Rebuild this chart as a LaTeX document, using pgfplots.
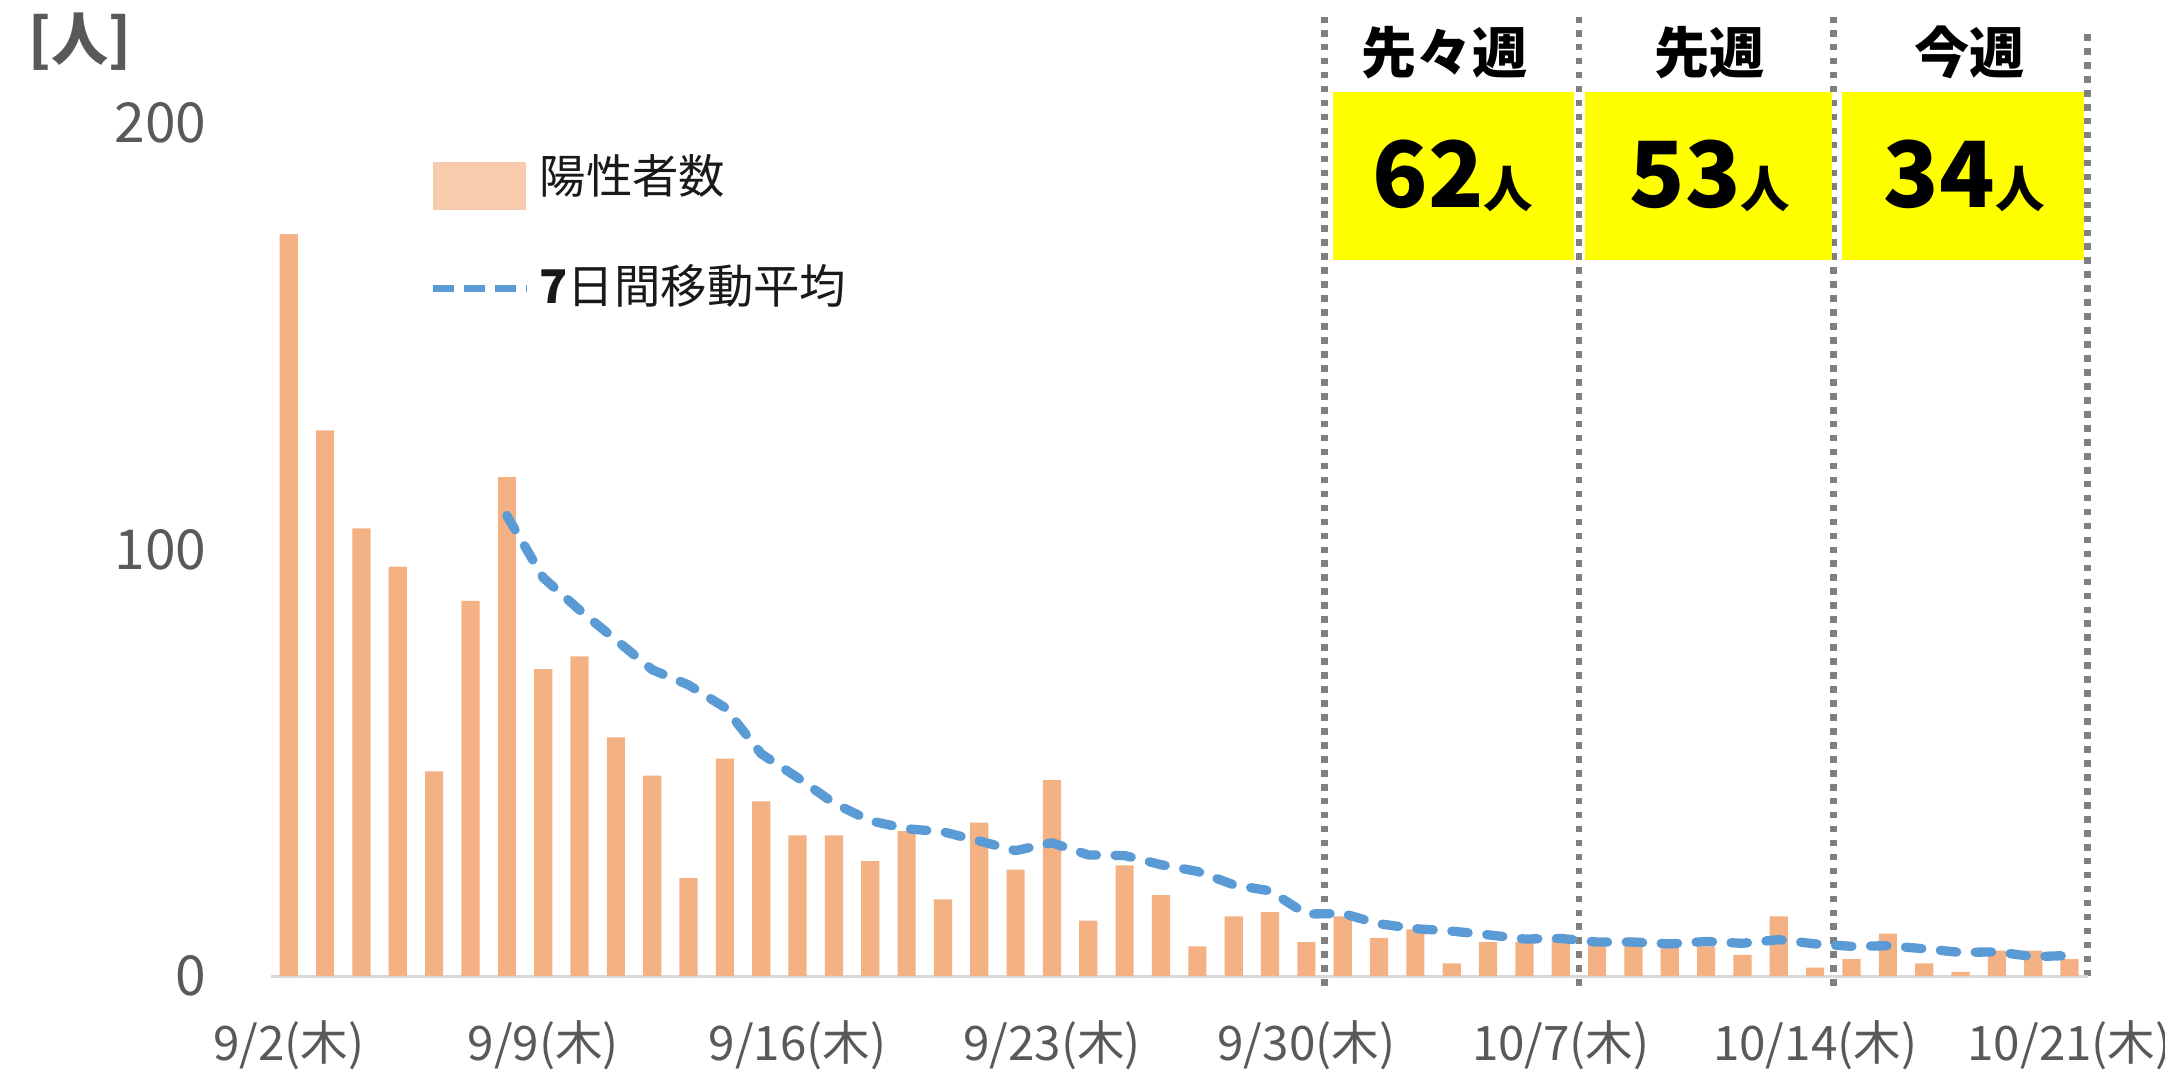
\documentclass[border=0pt]{standalone}
\usepackage{pgfplots}
\usepackage{pgfplotstable}
\pgfplotsset{compat=1.18}
\usepackage{fontspec}
\setmainfont{Noto Sans CJK JP}
\definecolor{barorange}{HTML}{F4B183}
\definecolor{legpeach}{HTML}{F8CBAD}
\definecolor{mablue}{HTML}{5B9BD5}
\definecolor{dotgray}{HTML}{808080}
\definecolor{textgray}{HTML}{595959}
\definecolor{axisgray}{HTML}{D9D9D9}
\definecolor{boxyellow}{HTML}{FFFF00}

\pgfplotstableread{
x y
0 174
1 128
2 105
3 96
4 48
5 88
6 117
7 72
8 75
9 56
10 47
11 23
12 51
13 41
14 33
15 33
16 27
17 34
18 18
19 36
20 25
21 46
22 13
23 26
24 19
25 7
26 14
27 15
28 8
29 14
30 9
31 11
32 3
33 8
34 8
35 9
36 8
37 9
38 8
39 7
40 5
41 14
42 2
43 4
44 10
45 3
46 1
47 6
48 6
49 4
}\bars

\pgfplotstableread{
x y
6 108.00
7 93.43
8 85.86
9 78.86
10 71.86
11 68.29
12 63.00
13 52.14
14 46.57
15 40.57
16 36.43
17 34.57
18 33.86
19 31.71
20 29.43
21 31.29
22 28.43
23 28.29
24 26.14
25 24.57
26 21.43
27 20.00
28 14.57
29 14.71
30 12.29
31 11.14
32 10.57
33 9.71
34 8.71
35 8.86
36 8.00
37 8.00
38 7.57
39 8.14
40 7.71
41 8.57
42 7.57
43 7.00
44 7.14
45 6.43
46 5.57
47 5.71
48 4.57
49 4.86
}\ma

\begin{document}
\begin{tikzpicture}
\path[use as bounding box] (0,0) rectangle (20cm,9.936cm);
\node[font=\bfseries\fontsize{15}{16}\selectfont, text=textgray] at (0.74cm,9.553cm) {[人]};
\begin{axis}[
  at={(2.5cm,0.918cm)}, anchor=south west,
  scale only axis, width=16.786cm, height=8.865cm,
  xmin=-0.5, xmax=49.5, ymin=0, ymax=225,
  axis line style={draw=none},
  tick style={draw=none},
  xtick={0,7,14,21,28,35,42,49},
  xticklabels={9/2(木),9/9(木),9/16(木),9/23(木),9/30(木),10/7(木),10/14(木),10/21(木)},
  ytick={0,100,200},
  xticklabel style={font=\fontsize{12.5}{14}\selectfont, text=textgray, anchor=center, inner sep=0pt, yshift=-0.638cm},
  yticklabel style={font=\fontsize{14.5}{16}\selectfont, text=textgray, anchor=east, inner sep=0pt, xshift=-0.587cm},
  /pgf/number format/assume math mode=true,
  clip=false,
]
% week separators
\draw[dotgray, line width=1.75pt, dash pattern=on 1.75pt off 1.92pt] (axis cs:28.5,-2.3) -- (axis cs:28.5,225);
\draw[dotgray, line width=1.75pt, dash pattern=on 1.75pt off 1.92pt] (axis cs:35.5,-2.3) -- (axis cs:35.5,225);
\draw[dotgray, line width=1.75pt, dash pattern=on 1.75pt off 1.92pt] (axis cs:42.5,-2.3) -- (axis cs:42.5,225);
\draw[dotgray, line width=1.75pt, dash pattern=on 1.75pt off 1.92pt] (axis cs:49.5,0) -- (axis cs:49.5,221.7);
% baseline
\draw[axisgray, line width=0.8pt] (axis cs:-0.5,0) -- (axis cs:49.5,0);
\addplot[ybar, bar width=0.5, bar shift=0pt, fill=barorange, draw=none] table[x=x,y=y]{\bars};
\addplot[mablue, line width=2.45pt, line cap=round, line join=round, dash pattern=on 4.3pt off 4.9pt] table[x=x,y=y]{\ma};
% week boxes
\fill[boxyellow] (axis cs:28.72,168) rectangle (axis cs:35.37,207.4);
\fill[boxyellow] (axis cs:35.68,168) rectangle (axis cs:42.45,207.4);
\fill[boxyellow] (axis cs:42.75,168) rectangle (axis cs:49.41,207.4);
\node[font=\bfseries\fontsize{14.5}{16}\selectfont] at (axis cs:31.8,216.5) {先々週};
\node[font=\bfseries\fontsize{14.5}{16}\selectfont] at (axis cs:39.1,216.5) {先週};
\node[font=\bfseries\fontsize{14.5}{16}\selectfont] at (axis cs:46.25,216.5) {今週};
\node[font=\bfseries] at (axis cs:32.03,187.7) {\fontsize{24}{26}\selectfont 62\fontsize{13}{14}\selectfont 人};
\node[font=\bfseries] at (axis cs:39.1,187.7) {\fontsize{24}{26}\selectfont 53\fontsize{13}{14}\selectfont 人};
\node[font=\bfseries] at (axis cs:46.1,187.7) {\fontsize{24}{26}\selectfont 34\fontsize{13}{14}\selectfont 人};
% legend
\fill[legpeach] (axis cs:3.96,179.6) rectangle (axis cs:6.54,190.9);
\node[anchor=west, inner sep=0pt, font=\fontsize{12.2}{14}\selectfont, text=black!90] at (axis cs:6.88,187.7) {陽性者数};
\draw[mablue, line width=1.75pt, dash pattern=on 5.7pt off 2.45pt] (axis cs:3.96,161.2) -- (axis cs:6.54,161.2);
\node[anchor=west, inner sep=0pt, font=\fontsize{12.2}{14}\selectfont, text=black!90] at (axis cs:6.88,161.8) {{\bfseries 7}日間移動平均};
\end{axis}
\end{tikzpicture}
\end{document}
